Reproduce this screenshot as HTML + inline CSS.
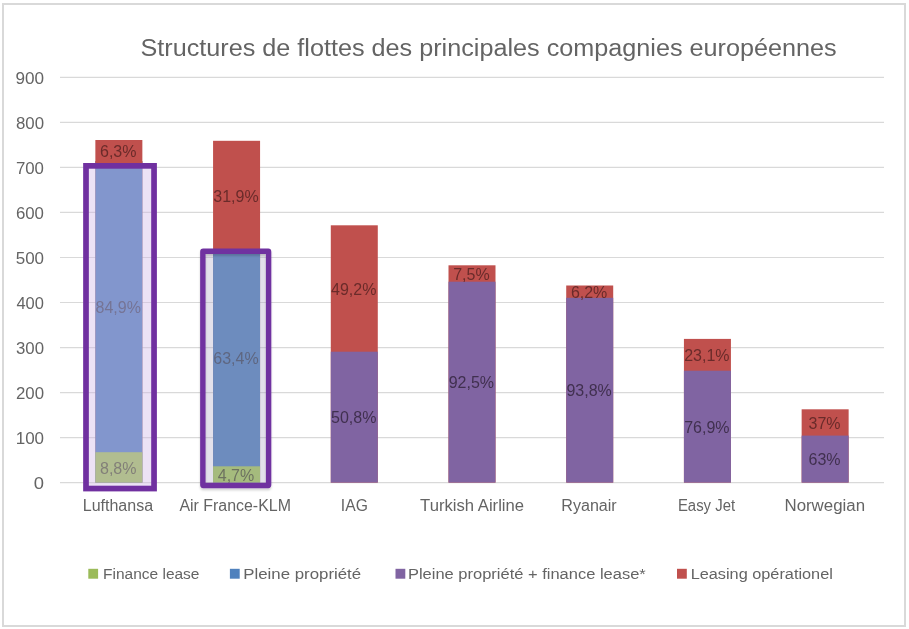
<!DOCTYPE html>
<html><head><meta charset="utf-8"><title>Structures de flottes</title>
<style>html,body{margin:0;padding:0;background:#fff;width:909px;height:629px;overflow:hidden;font-family:"Liberation Sans", sans-serif;}</style>
</head><body>
<svg width="909" height="629" viewBox="0 0 909 629" style="display:block;filter:blur(0.45px)">
<rect x="0" y="0" width="909" height="629" fill="#fff"/>
<rect x="3" y="4" width="902" height="622" fill="none" stroke="#d9d9d9" stroke-width="2"/>
<text x="140.44" y="56.10" font-family='"Liberation Sans", sans-serif' font-size="23.5" fill="#646464" textLength="696.27" lengthAdjust="spacingAndGlyphs">Structures de flottes des principales compagnies européennes</text>
<line x1="60" x2="884" y1="482.60" y2="482.60" stroke="#d9d9d9" stroke-width="1.2"/>
<text x="33.86" y="488.75" font-family='"Liberation Sans", sans-serif' font-size="16" fill="#646464" textLength="10.24" lengthAdjust="spacingAndGlyphs">0</text>
<line x1="60" x2="884" y1="437.58" y2="437.58" stroke="#d9d9d9" stroke-width="1.2"/>
<text x="15.70" y="443.73" font-family='"Liberation Sans", sans-serif' font-size="16" fill="#646464" textLength="28.38" lengthAdjust="spacingAndGlyphs">100</text>
<line x1="60" x2="884" y1="392.56" y2="392.56" stroke="#d9d9d9" stroke-width="1.2"/>
<text x="15.94" y="398.71" font-family='"Liberation Sans", sans-serif' font-size="16" fill="#646464" textLength="28.04" lengthAdjust="spacingAndGlyphs">200</text>
<line x1="60" x2="884" y1="347.53" y2="347.53" stroke="#d9d9d9" stroke-width="1.2"/>
<text x="15.99" y="353.68" font-family='"Liberation Sans", sans-serif' font-size="16" fill="#646464" textLength="27.99" lengthAdjust="spacingAndGlyphs">300</text>
<line x1="60" x2="884" y1="302.51" y2="302.51" stroke="#d9d9d9" stroke-width="1.2"/>
<text x="16.43" y="308.66" font-family='"Liberation Sans", sans-serif' font-size="16" fill="#646464" textLength="27.49" lengthAdjust="spacingAndGlyphs">400</text>
<line x1="60" x2="884" y1="257.49" y2="257.49" stroke="#d9d9d9" stroke-width="1.2"/>
<text x="15.73" y="263.64" font-family='"Liberation Sans", sans-serif' font-size="16" fill="#646464" textLength="28.35" lengthAdjust="spacingAndGlyphs">500</text>
<line x1="60" x2="884" y1="212.47" y2="212.47" stroke="#d9d9d9" stroke-width="1.2"/>
<text x="15.91" y="218.62" font-family='"Liberation Sans", sans-serif' font-size="16" fill="#646464" textLength="28.06" lengthAdjust="spacingAndGlyphs">600</text>
<line x1="60" x2="884" y1="167.45" y2="167.45" stroke="#d9d9d9" stroke-width="1.2"/>
<text x="15.91" y="173.60" font-family='"Liberation Sans", sans-serif' font-size="16" fill="#646464" textLength="28.06" lengthAdjust="spacingAndGlyphs">700</text>
<line x1="60" x2="884" y1="122.42" y2="122.42" stroke="#d9d9d9" stroke-width="1.2"/>
<text x="15.95" y="128.57" font-family='"Liberation Sans", sans-serif' font-size="16" fill="#646464" textLength="28.05" lengthAdjust="spacingAndGlyphs">800</text>
<line x1="60" x2="884" y1="77.40" y2="77.40" stroke="#d9d9d9" stroke-width="1.2"/>
<text x="15.44" y="83.55" font-family='"Liberation Sans", sans-serif' font-size="16" fill="#646464" textLength="28.58" lengthAdjust="spacingAndGlyphs">900</text>
<rect x="95.36" y="140.00" width="47.0" height="342.60" fill="#c0504d"/>
<rect x="95.36" y="161.40" width="47.0" height="321.20" fill="#4f81bd"/>
<rect x="95.36" y="452.20" width="47.0" height="30.40" fill="#9dc258"/>
<rect x="95.36" y="161" width="47.0" height="2.5" fill="#c0504d"/>
<rect x="213.07" y="140.80" width="47.0" height="341.80" fill="#c0504d"/>
<rect x="213.07" y="249.80" width="47.0" height="232.80" fill="#4f81bd"/>
<rect x="213.07" y="466.30" width="47.0" height="16.30" fill="#a3c65c"/>
<rect x="330.79" y="225.30" width="47.0" height="257.30" fill="#c0504d"/>
<rect x="330.79" y="351.70" width="47.0" height="130.90" fill="#8064a2"/>
<rect x="448.50" y="265.30" width="47.0" height="217.30" fill="#c0504d"/>
<rect x="448.50" y="281.70" width="47.0" height="200.90" fill="#8064a2"/>
<rect x="566.21" y="285.50" width="47.0" height="197.10" fill="#c0504d"/>
<rect x="566.21" y="297.80" width="47.0" height="184.80" fill="#8064a2"/>
<rect x="683.93" y="338.90" width="47.0" height="143.70" fill="#c0504d"/>
<rect x="683.93" y="370.70" width="47.0" height="111.90" fill="#8064a2"/>
<rect x="801.64" y="409.30" width="47.0" height="73.30" fill="#c0504d"/>
<rect x="801.64" y="435.60" width="47.0" height="47.00" fill="#8064a2"/>
<text x="118.26" y="473.60" text-anchor="middle" font-family='"Liberation Sans", sans-serif' font-size="16" fill="#4f5a30">8,8%</text>
<text x="118.26" y="313.00" text-anchor="middle" font-family='"Liberation Sans", sans-serif' font-size="16" fill="#3a4860">84,9%</text>
<text x="118.26" y="156.90" text-anchor="middle" font-family='"Liberation Sans", sans-serif' font-size="16" fill="#6a2b2a">6,3%</text>
<text x="235.97" y="480.65" text-anchor="middle" font-family='"Liberation Sans", sans-serif' font-size="16" fill="#4f5a30">4,7%</text>
<text x="235.97" y="364.25" text-anchor="middle" font-family='"Liberation Sans", sans-serif' font-size="16" fill="#3a4860">63,4%</text>
<text x="235.97" y="201.50" text-anchor="middle" font-family='"Liberation Sans", sans-serif' font-size="16" fill="#6a2b2a">31,9%</text>
<text x="353.69" y="423.35" text-anchor="middle" font-family='"Liberation Sans", sans-serif' font-size="16" fill="#40304f">50,8%</text>
<text x="353.69" y="294.70" text-anchor="middle" font-family='"Liberation Sans", sans-serif' font-size="16" fill="#6a2b2a">49,2%</text>
<text x="471.40" y="388.35" text-anchor="middle" font-family='"Liberation Sans", sans-serif' font-size="16" fill="#40304f">92,5%</text>
<text x="471.40" y="279.70" text-anchor="middle" font-family='"Liberation Sans", sans-serif' font-size="16" fill="#6a2b2a">7,5%</text>
<text x="589.11" y="396.40" text-anchor="middle" font-family='"Liberation Sans", sans-serif' font-size="16" fill="#40304f">93,8%</text>
<text x="589.11" y="297.85" text-anchor="middle" font-family='"Liberation Sans", sans-serif' font-size="16" fill="#6a2b2a">6,2%</text>
<text x="706.83" y="432.85" text-anchor="middle" font-family='"Liberation Sans", sans-serif' font-size="16" fill="#40304f">76,9%</text>
<text x="706.83" y="361.00" text-anchor="middle" font-family='"Liberation Sans", sans-serif' font-size="16" fill="#6a2b2a">23,1%</text>
<text x="824.54" y="465.30" text-anchor="middle" font-family='"Liberation Sans", sans-serif' font-size="16" fill="#40304f">63%</text>
<text x="824.54" y="428.65" text-anchor="middle" font-family='"Liberation Sans", sans-serif' font-size="16" fill="#6a2b2a">37%</text>
<text x="82.74" y="511.40" font-family='"Liberation Sans", sans-serif' font-size="16" fill="#646464" textLength="70.37" lengthAdjust="spacingAndGlyphs">Lufthansa</text>
<text x="179.38" y="511.40" font-family='"Liberation Sans", sans-serif' font-size="16" fill="#646464" textLength="111.53" lengthAdjust="spacingAndGlyphs">Air France-KLM</text>
<text x="340.86" y="511.40" font-family='"Liberation Sans", sans-serif' font-size="16" fill="#646464" textLength="26.99" lengthAdjust="spacingAndGlyphs">IAG</text>
<text x="420.13" y="511.40" font-family='"Liberation Sans", sans-serif' font-size="16" fill="#646464" textLength="103.97" lengthAdjust="spacingAndGlyphs">Turkish Airline</text>
<text x="561.34" y="511.40" font-family='"Liberation Sans", sans-serif' font-size="16" fill="#646464" textLength="55.40" lengthAdjust="spacingAndGlyphs">Ryanair</text>
<text x="677.92" y="511.40" font-family='"Liberation Sans", sans-serif' font-size="16" fill="#646464" textLength="57.15" lengthAdjust="spacingAndGlyphs">Easy Jet</text>
<text x="784.46" y="511.40" font-family='"Liberation Sans", sans-serif' font-size="16" fill="#646464" textLength="80.60" lengthAdjust="spacingAndGlyphs">Norwegian</text>
<rect x="86.0" y="165.85" width="68.05" height="322.70" fill="rgb(208,183,230)" fill-opacity="0.4" stroke="#7030a0" stroke-width="5.7"/>
<defs><filter id="sh" x="-20%" y="-20%" width="140%" height="140%"><feGaussianBlur in="SourceAlpha" stdDeviation="1"/><feOffset dx="0" dy="2" result="b"/><feFlood flood-color="#000" flood-opacity="0.18"/><feComposite in2="b" operator="in"/><feMerge><feMergeNode/><feMergeNode in="SourceGraphic"/></feMerge></filter></defs>
<rect x="202.85" y="251.29999999999998" width="65.75" height="234.20" rx="0.4" fill="rgb(170,165,195)" fill-opacity="0.33" stroke="none"/>
<rect x="202.85" y="251.29999999999998" width="65.75" height="234.20" rx="0.4" fill="none" stroke="#7030a0" stroke-width="5.4" filter="url(#sh)"/>
<rect x="88.3" y="568.8" width="9.8" height="9.9" fill="#9bbb59"/>
<text x="103.06" y="578.80" font-family='"Liberation Sans", sans-serif' font-size="15.5" fill="#646464" textLength="96.42" lengthAdjust="spacingAndGlyphs">Finance lease</text>
<rect x="229.9" y="568.8" width="9.8" height="9.9" fill="#4f81bd"/>
<text x="243.27" y="578.80" font-family='"Liberation Sans", sans-serif' font-size="15.5" fill="#646464" textLength="117.88" lengthAdjust="spacingAndGlyphs">Pleine propriété</text>
<rect x="395.5" y="568.8" width="9.8" height="9.9" fill="#8064a2"/>
<text x="407.94" y="578.80" font-family='"Liberation Sans", sans-serif' font-size="15.5" fill="#646464" textLength="237.83" lengthAdjust="spacingAndGlyphs">Pleine propriété + finance lease*</text>
<rect x="677.0" y="568.8" width="9.8" height="9.9" fill="#c0504d"/>
<text x="690.66" y="578.80" font-family='"Liberation Sans", sans-serif' font-size="15.5" fill="#646464" textLength="142.17" lengthAdjust="spacingAndGlyphs">Leasing opérationel</text>
</svg>
</body></html>
